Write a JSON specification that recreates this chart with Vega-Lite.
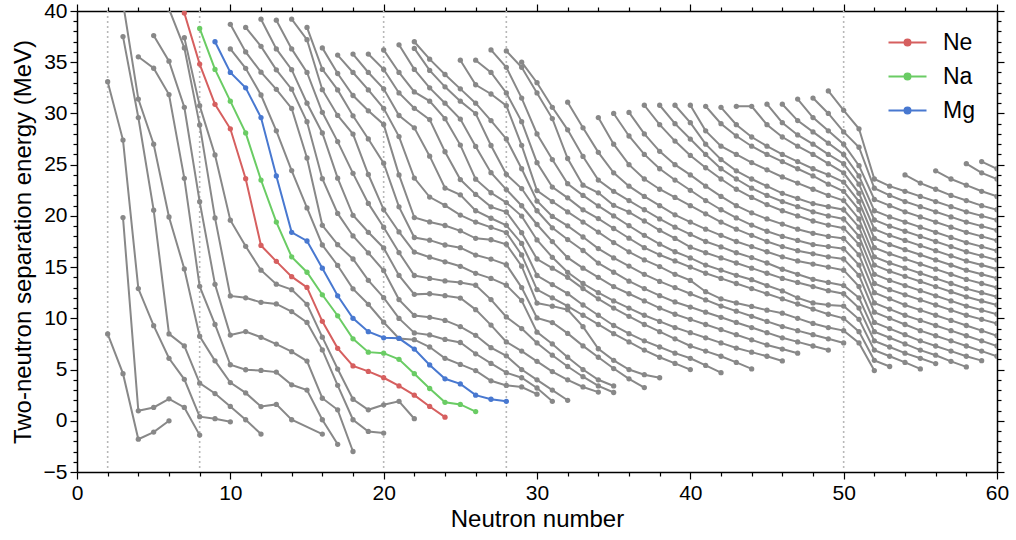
{
"$schema":"https://vega.github.io/schema/vega-lite/v6.json",
"width":920,"height":461,
"autosize":{"type":"none"},
"padding":{"left":77,"top":11,"right":19,"bottom":68},
"config":{"font":"Liberation Sans","view":{"stroke":null},
"axis":{"grid":false,"domainColor":"#000000","domainWidth":1.5,"tickColor":"#000000","tickWidth":1.2,"labelFontSize":21,"labelColor":"#000000","titleFontSize":24,"titleFontWeight":"normal","titleColor":"#000000","labelFont":"Liberation Sans","titleFont":"Liberation Sans"}},
"datasets":{
"magic":[{"m":2},{"m":8},{"m":20},{"m":28},{"m":50}],
"s2n":[
{"e":"H","n":2,"s":8.48},{"e":"H","n":3,"s":4.6},{"e":"H","n":4,"s":-1.8},{"e":"H","n":5,"s":-1.1},{"e":"H","n":6,"s":0.0},
{"e":"He","n":3,"s":19.84},{"e":"He","n":4,"s":0.97},{"e":"He","n":5,"s":1.3},{"e":"He","n":6,"s":2.14},{"e":"He","n":7,"s":1.3},{"e":"He","n":8,"s":-1.4},
{"e":"Li","n":2,"s":33.1},{"e":"Li","n":3,"s":27.4},{"e":"Li","n":4,"s":12.9},{"e":"Li","n":5,"s":9.28},{"e":"Li","n":6,"s":6.1},{"e":"Li","n":7,"s":4.05},{"e":"Li","n":8,"s":0.4},{"e":"Li","n":9,"s":0.2},{"e":"Li","n":10,"s":-0.1},
{"e":"Be","n":3,"s":37.5},{"e":"Be","n":4,"s":29.6},{"e":"Be","n":5,"s":20.56},{"e":"Be","n":6,"s":8.48},{"e":"Be","n":7,"s":7.31},{"e":"Be","n":8,"s":3.67},{"e":"Be","n":9,"s":2.66},{"e":"Be","n":10,"s":1.4},{"e":"Be","n":11,"s":0.1},{"e":"Be","n":12,"s":-1.3},
{"e":"B","n":3,"s":40.8},{"e":"B","n":4,"s":31.4},{"e":"B","n":5,"s":27.0},{"e":"B","n":6,"s":19.89},{"e":"B","n":7,"s":14.82},{"e":"B","n":8,"s":8.25},{"e":"B","n":9,"s":5.85},{"e":"B","n":10,"s":3.73},{"e":"B","n":11,"s":2.72},{"e":"B","n":12,"s":1.39},{"e":"B","n":13,"s":1.6},{"e":"B","n":14,"s":0.1},{"e":"B","n":16,"s":-1.3},
{"e":"C","n":4,"s":35.53},{"e":"C","n":5,"s":34.41},{"e":"C","n":6,"s":31.84},{"e":"C","n":7,"s":23.67},{"e":"C","n":8,"s":13.12},{"e":"C","n":9,"s":9.4},{"e":"C","n":10,"s":5.47},{"e":"C","n":11,"s":4.98},{"e":"C","n":12,"s":4.91},{"e":"C","n":13,"s":4.75},{"e":"C","n":14,"s":3.51},{"e":"C","n":15,"s":3.0},{"e":"C","n":16,"s":0.1},{"e":"C","n":17,"s":-2.3},
{"e":"N","n":5,"s":37.6},{"e":"N","n":6,"s":35.1},{"e":"N","n":7,"s":30.6},{"e":"N","n":8,"s":21.38},{"e":"N","n":9,"s":13.32},{"e":"N","n":10,"s":8.37},{"e":"N","n":11,"s":8.71},{"e":"N","n":12,"s":8.15},{"e":"N","n":13,"s":7.49},{"e":"N","n":14,"s":6.75},{"e":"N","n":15,"s":5.83},{"e":"N","n":16,"s":2.2},{"e":"N","n":17,"s":1.07},{"e":"N","n":18,"s":-3.0},
{"e":"O","n":6,"s":40.2},{"e":"O","n":7,"s":36.4},{"e":"O","n":8,"s":28.88},{"e":"O","n":9,"s":19.8},{"e":"O","n":10,"s":12.19},{"e":"O","n":11,"s":12.0},{"e":"O","n":12,"s":11.56},{"e":"O","n":13,"s":11.41},{"e":"O","n":14,"s":10.66},{"e":"O","n":15,"s":9.6},{"e":"O","n":16,"s":6.92},{"e":"O","n":17,"s":3.46},{"e":"O","n":18,"s":0.1},{"e":"O","n":19,"s":-1.04},{"e":"O","n":20,"s":-1.2},
{"e":"F","n":7,"s":37.4},{"e":"F","n":8,"s":30.76},{"e":"F","n":9,"s":25.95},{"e":"F","n":10,"s":19.58},{"e":"F","n":11,"s":17.03},{"e":"F","n":12,"s":14.7},{"e":"F","n":13,"s":13.33},{"e":"F","n":14,"s":12.8},{"e":"F","n":15,"s":11.37},{"e":"F","n":16,"s":8.16},{"e":"F","n":17,"s":5.05},{"e":"F","n":18,"s":2.1},{"e":"F","n":19,"s":1.07},{"e":"F","n":20,"s":1.56},{"e":"F","n":21,"s":1.9},{"e":"F","n":22,"s":0.2},
{"e":"Ne","n":7,"s":39.8},{"e":"Ne","n":8,"s":34.82},{"e":"Ne","n":9,"s":30.89},{"e":"Ne","n":10,"s":28.5},{"e":"Ne","n":11,"s":23.63},{"e":"Ne","n":12,"s":17.12},{"e":"Ne","n":13,"s":15.56},{"e":"Ne","n":14,"s":14.07},{"e":"Ne","n":15,"s":13.02},{"e":"Ne","n":16,"s":9.71},{"e":"Ne","n":17,"s":7.07},{"e":"Ne","n":18,"s":5.35},{"e":"Ne","n":19,"s":4.82},{"e":"Ne","n":20,"s":4.2},{"e":"Ne","n":21,"s":3.4},{"e":"Ne","n":22,"s":2.5},{"e":"Ne","n":23,"s":1.4},{"e":"Ne","n":24,"s":0.35},
{"e":"Na","n":8,"s":38.3},{"e":"Na","n":9,"s":34.3},{"e":"Na","n":10,"s":31.2},{"e":"Na","n":11,"s":28.1},{"e":"Na","n":12,"s":23.5},{"e":"Na","n":13,"s":19.4},{"e":"Na","n":14,"s":16.0},{"e":"Na","n":15,"s":14.5},{"e":"Na","n":16,"s":12.3},{"e":"Na","n":17,"s":10.25},{"e":"Na","n":18,"s":8.0},{"e":"Na","n":19,"s":6.7},{"e":"Na","n":20,"s":6.6},{"e":"Na","n":21,"s":6.0},{"e":"Na","n":22,"s":4.6},{"e":"Na","n":23,"s":3.15},{"e":"Na","n":24,"s":1.8},{"e":"Na","n":25,"s":1.6},{"e":"Na","n":26,"s":0.9},
{"e":"Mg","n":9,"s":37.0},{"e":"Mg","n":10,"s":34.0},{"e":"Mg","n":11,"s":32.5},{"e":"Mg","n":12,"s":29.6},{"e":"Mg","n":13,"s":23.9},{"e":"Mg","n":14,"s":18.4},{"e":"Mg","n":15,"s":17.55},{"e":"Mg","n":16,"s":14.9},{"e":"Mg","n":17,"s":12.2},{"e":"Mg","n":18,"s":10.0},{"e":"Mg","n":19,"s":8.7},{"e":"Mg","n":20,"s":8.1},{"e":"Mg","n":21,"s":8.05},{"e":"Mg","n":22,"s":7.0},{"e":"Mg","n":23,"s":5.45},{"e":"Mg","n":24,"s":4.1},{"e":"Mg","n":25,"s":3.6},{"e":"Mg","n":26,"s":2.5},{"e":"Mg","n":27,"s":2.1},{"e":"Mg","n":28,"s":1.9},
{"e":"Al","n":10,"s":36.3},{"e":"Al","n":11,"s":34.4},{"e":"Al","n":12,"s":31.8},{"e":"Al","n":13,"s":28.3},{"e":"Al","n":14,"s":24.42},{"e":"Al","n":15,"s":20.78},{"e":"Al","n":16,"s":17.16},{"e":"Al","n":17,"s":15.16},{"e":"Al","n":18,"s":12.88},{"e":"Al","n":19,"s":11.37},{"e":"Al","n":20,"s":9.62},{"e":"Al","n":21,"s":8.04},{"e":"Al","n":22,"s":7.92},{"e":"Al","n":23,"s":7.2},{"e":"Al","n":24,"s":6.1},{"e":"Al","n":25,"s":5.5},{"e":"Al","n":26,"s":4.9},{"e":"Al","n":27,"s":3.9},{"e":"Al","n":28,"s":3.45},{"e":"Al","n":29,"s":3.3},{"e":"Al","n":30,"s":2.6},
{"e":"Si","n":10,"s":38.7},{"e":"Si","n":11,"s":36.0},{"e":"Si","n":12,"s":34.03},{"e":"Si","n":13,"s":32.35},{"e":"Si","n":14,"s":30.49},{"e":"Si","n":15,"s":25.65},{"e":"Si","n":16,"s":19.08},{"e":"Si","n":17,"s":17.19},{"e":"Si","n":18,"s":15.79},{"e":"Si","n":19,"s":13.71},{"e":"Si","n":20,"s":12.02},{"e":"Si","n":21,"s":9.99},{"e":"Si","n":22,"s":8.58},{"e":"Si","n":23,"s":8.38},{"e":"Si","n":24,"s":7.94},{"e":"Si","n":25,"s":7.64},{"e":"Si","n":26,"s":6.54},{"e":"Si","n":27,"s":5.6},{"e":"Si","n":28,"s":4.7},{"e":"Si","n":29,"s":4.2},{"e":"Si","n":30,"s":3.2},{"e":"Si","n":31,"s":1.9},
{"e":"P","n":11,"s":38.4},{"e":"P","n":12,"s":36.55},{"e":"P","n":13,"s":34.26},{"e":"P","n":14,"s":32.37},{"e":"P","n":15,"s":29.19},{"e":"P","n":16,"s":23.63},{"e":"P","n":17,"s":20.24},{"e":"P","n":18,"s":18.04},{"e":"P","n":19,"s":16.39},{"e":"P","n":20,"s":14.66},{"e":"P","n":21,"s":11.83},{"e":"P","n":22,"s":10.28},{"e":"P","n":23,"s":10.1},{"e":"P","n":24,"s":9.8},{"e":"P","n":25,"s":9.2},{"e":"P","n":26,"s":8.34},{"e":"P","n":27,"s":7.14},{"e":"P","n":28,"s":6.34},{"e":"P","n":29,"s":5.0},{"e":"P","n":30,"s":4.0},{"e":"P","n":31,"s":3.0},{"e":"P","n":32,"s":2.0},
{"e":"S","n":12,"s":39.2},{"e":"S","n":13,"s":36.3},{"e":"S","n":14,"s":34.27},{"e":"S","n":15,"s":31.0},{"e":"S","n":16,"s":28.09},{"e":"S","n":17,"s":23.68},{"e":"S","n":18,"s":20.06},{"e":"S","n":19,"s":18.4},{"e":"S","n":20,"s":16.87},{"e":"S","n":21,"s":14.19},{"e":"S","n":22,"s":12.34},{"e":"S","n":23,"s":12.4},{"e":"S","n":24,"s":12.21},{"e":"S","n":25,"s":11.98},{"e":"S","n":26,"s":10.85},{"e":"S","n":27,"s":9.34},{"e":"S","n":28,"s":7.7},{"e":"S","n":29,"s":6.8},{"e":"S","n":30,"s":5.8},{"e":"S","n":31,"s":4.8},{"e":"S","n":32,"s":4.0},{"e":"S","n":33,"s":3.3},{"e":"S","n":34,"s":2.8},
{"e":"Cl","n":13,"s":39.1},{"e":"Cl","n":14,"s":36.3},{"e":"Cl","n":15,"s":34.0},{"e":"Cl","n":16,"s":30.11},{"e":"Cl","n":17,"s":27.25},{"e":"Cl","n":18,"s":24.15},{"e":"Cl","n":19,"s":21.22},{"e":"Cl","n":20,"s":18.89},{"e":"Cl","n":21,"s":16.42},{"e":"Cl","n":22,"s":14.18},{"e":"Cl","n":23,"s":13.9},{"e":"Cl","n":24,"s":13.65},{"e":"Cl","n":25,"s":13.49},{"e":"Cl","n":26,"s":13.23},{"e":"Cl","n":27,"s":11.83},{"e":"Cl","n":28,"s":10.14},{"e":"Cl","n":29,"s":9.0},{"e":"Cl","n":30,"s":7.6},{"e":"Cl","n":31,"s":6.4},{"e":"Cl","n":32,"s":5.3},{"e":"Cl","n":33,"s":4.3},{"e":"Cl","n":34,"s":3.4},{"e":"Cl","n":35,"s":2.76},
{"e":"Ar","n":14,"s":39.2},{"e":"Ar","n":15,"s":37.2},{"e":"Ar","n":16,"s":32.32},{"e":"Ar","n":17,"s":29.81},{"e":"Ar","n":18,"s":27.99},{"e":"Ar","n":19,"s":24.04},{"e":"Ar","n":20,"s":20.62},{"e":"Ar","n":21,"s":18.43},{"e":"Ar","n":22,"s":16.47},{"e":"Ar","n":23,"s":15.97},{"e":"Ar","n":24,"s":15.52},{"e":"Ar","n":25,"s":15.08},{"e":"Ar","n":26,"s":14.39},{"e":"Ar","n":27,"s":13.9},{"e":"Ar","n":28,"s":13.24},{"e":"Ar","n":29,"s":11.74},{"e":"Ar","n":30,"s":8.65},{"e":"Ar","n":31,"s":7.5},{"e":"Ar","n":32,"s":6.2},{"e":"Ar","n":33,"s":5.0},{"e":"Ar","n":34,"s":4.0},{"e":"Ar","n":35,"s":3.4},
{"e":"K","n":15,"s":38.4},{"e":"K","n":16,"s":34.3},{"e":"K","n":17,"s":32.3},{"e":"K","n":18,"s":29.77},{"e":"K","n":19,"s":27.51},{"e":"K","n":20,"s":25.15},{"e":"K","n":21,"s":20.88},{"e":"K","n":22,"s":17.89},{"e":"K","n":23,"s":17.63},{"e":"K","n":24,"s":17.16},{"e":"K","n":25,"s":16.9},{"e":"K","n":26,"s":16.18},{"e":"K","n":27,"s":15.78},{"e":"K","n":28,"s":15.24},{"e":"K","n":29,"s":13.0},{"e":"K","n":30,"s":10.04},{"e":"K","n":31,"s":9.59},{"e":"K","n":32,"s":8.53},{"e":"K","n":33,"s":7.31},{"e":"K","n":34,"s":6.2},{"e":"K","n":35,"s":5.1},{"e":"K","n":36,"s":4.1},{"e":"K","n":37,"s":3.24},
{"e":"Ca","n":16,"s":36.4},{"e":"Ca","n":17,"s":33.9},{"e":"Ca","n":18,"s":31.75},{"e":"Ca","n":19,"s":30.26},{"e":"Ca","n":20,"s":28.93},{"e":"Ca","n":21,"s":24.0},{"e":"Ca","n":22,"s":19.84},{"e":"Ca","n":23,"s":19.41},{"e":"Ca","n":24,"s":19.06},{"e":"Ca","n":25,"s":18.54},{"e":"Ca","n":26,"s":17.81},{"e":"Ca","n":27,"s":17.67},{"e":"Ca","n":28,"s":17.23},{"e":"Ca","n":29,"s":15.09},{"e":"Ca","n":30,"s":11.49},{"e":"Ca","n":31,"s":11.19},{"e":"Ca","n":32,"s":10.84},{"e":"Ca","n":33,"s":9.19},{"e":"Ca","n":34,"s":7.03},{"e":"Ca","n":35,"s":5.9},{"e":"Ca","n":36,"s":5.0},{"e":"Ca","n":37,"s":4.5},{"e":"Ca","n":38,"s":4.2},
{"e":"Sc","n":17,"s":35.7},{"e":"Sc","n":18,"s":34.0},{"e":"Sc","n":19,"s":32.3},{"e":"Sc","n":20,"s":30.5},{"e":"Sc","n":21,"s":27.74},{"e":"Sc","n":22,"s":23.69},{"e":"Sc","n":23,"s":21.84},{"e":"Sc","n":24,"s":21.02},{"e":"Sc","n":25,"s":20.08},{"e":"Sc","n":26,"s":19.4},{"e":"Sc","n":27,"s":18.88},{"e":"Sc","n":28,"s":18.37},{"e":"Sc","n":29,"s":16.19},{"e":"Sc","n":30,"s":12.81},{"e":"Sc","n":31,"s":12.0},{"e":"Sc","n":32,"s":11.2},{"e":"Sc","n":33,"s":10.3},{"e":"Sc","n":34,"s":9.4},{"e":"Sc","n":35,"s":8.5},{"e":"Sc","n":36,"s":7.7},{"e":"Sc","n":37,"s":6.9},{"e":"Sc","n":38,"s":6.2},{"e":"Sc","n":39,"s":5.6},{"e":"Sc","n":40,"s":5.0},
{"e":"Ti","n":18,"s":35.8},{"e":"Ti","n":19,"s":34.0},{"e":"Ti","n":20,"s":32.4},{"e":"Ti","n":21,"s":29.8},{"e":"Ti","n":22,"s":28.6},{"e":"Ti","n":23,"s":25.83},{"e":"Ti","n":24,"s":22.72},{"e":"Ti","n":25,"s":22.06},{"e":"Ti","n":26,"s":20.5},{"e":"Ti","n":27,"s":19.77},{"e":"Ti","n":28,"s":19.08},{"e":"Ti","n":29,"s":17.31},{"e":"Ti","n":30,"s":14.18},{"e":"Ti","n":31,"s":13.3},{"e":"Ti","n":32,"s":12.41},{"e":"Ti","n":33,"s":11.3},{"e":"Ti","n":34,"s":10.3},{"e":"Ti","n":35,"s":9.3},{"e":"Ti","n":36,"s":8.5},{"e":"Ti","n":37,"s":7.8},{"e":"Ti","n":38,"s":7.2},{"e":"Ti","n":39,"s":6.6},{"e":"Ti","n":40,"s":6.1},{"e":"Ti","n":41,"s":5.4},{"e":"Ti","n":42,"s":4.7},
{"e":"V","n":19,"s":35.8},{"e":"V","n":20,"s":34.3},{"e":"V","n":21,"s":32.0},{"e":"V","n":22,"s":30.5},{"e":"V","n":23,"s":29.4},{"e":"V","n":24,"s":26.26},{"e":"V","n":25,"s":23.55},{"e":"V","n":26,"s":22.1},{"e":"V","n":27,"s":20.88},{"e":"V","n":28,"s":20.38},{"e":"V","n":29,"s":18.36},{"e":"V","n":30,"s":15.79},{"e":"V","n":31,"s":14.9},{"e":"V","n":32,"s":14.0},{"e":"V","n":33,"s":12.9},{"e":"V","n":34,"s":11.9},{"e":"V","n":35,"s":11.0},{"e":"V","n":36,"s":10.2},{"e":"V","n":37,"s":9.4},{"e":"V","n":38,"s":8.7},{"e":"V","n":39,"s":8.0},{"e":"V","n":40,"s":7.3},{"e":"V","n":41,"s":6.8},{"e":"V","n":42,"s":6.3},{"e":"V","n":43,"s":5.7},{"e":"V","n":44,"s":5.06},
{"e":"Cr","n":20,"s":36.2},{"e":"Cr","n":21,"s":34.0},{"e":"Cr","n":22,"s":32.1},{"e":"Cr","n":23,"s":31.2},{"e":"Cr","n":24,"s":29.49},{"e":"Cr","n":25,"s":26.91},{"e":"Cr","n":26,"s":23.58},{"e":"Cr","n":27,"s":22.26},{"e":"Cr","n":28,"s":21.3},{"e":"Cr","n":29,"s":19.98},{"e":"Cr","n":30,"s":17.65},{"e":"Cr","n":31,"s":15.96},{"e":"Cr","n":32,"s":14.49},{"e":"Cr","n":33,"s":13.4},{"e":"Cr","n":34,"s":12.5},{"e":"Cr","n":35,"s":11.7},{"e":"Cr","n":36,"s":11.0},{"e":"Cr","n":37,"s":10.3},{"e":"Cr","n":38,"s":9.7},{"e":"Cr","n":39,"s":9.1},{"e":"Cr","n":40,"s":8.6},{"e":"Cr","n":41,"s":8.1},{"e":"Cr","n":42,"s":7.6},{"e":"Cr","n":43,"s":7.1},{"e":"Cr","n":44,"s":6.7},{"e":"Cr","n":45,"s":6.3},{"e":"Cr","n":46,"s":5.84},
{"e":"Mn","n":21,"s":36.7},{"e":"Mn","n":22,"s":34.3},{"e":"Mn","n":23,"s":32.5},{"e":"Mn","n":24,"s":31.0},{"e":"Mn","n":25,"s":29.45},{"e":"Mn","n":26,"s":26.78},{"e":"Mn","n":27,"s":24.22},{"e":"Mn","n":28,"s":22.57},{"e":"Mn","n":29,"s":20.99},{"e":"Mn","n":30,"s":19.16},{"e":"Mn","n":31,"s":17.49},{"e":"Mn","n":32,"s":15.92},{"e":"Mn","n":33,"s":14.9},{"e":"Mn","n":34,"s":14.0},{"e":"Mn","n":35,"s":13.1},{"e":"Mn","n":36,"s":12.4},{"e":"Mn","n":37,"s":11.7},{"e":"Mn","n":38,"s":11.0},{"e":"Mn","n":39,"s":10.4},{"e":"Mn","n":40,"s":9.9},{"e":"Mn","n":41,"s":9.4},{"e":"Mn","n":42,"s":8.9},{"e":"Mn","n":43,"s":8.4},{"e":"Mn","n":44,"s":7.9},{"e":"Mn","n":45,"s":7.4},{"e":"Mn","n":46,"s":7.0},{"e":"Mn","n":47,"s":6.6},
{"e":"Fe","n":22,"s":36.35},{"e":"Fe","n":23,"s":34.2},{"e":"Fe","n":24,"s":32.6},{"e":"Fe","n":25,"s":31.2},{"e":"Fe","n":26,"s":29.99},{"e":"Fe","n":27,"s":26.87},{"e":"Fe","n":28,"s":24.06},{"e":"Fe","n":29,"s":22.67},{"e":"Fe","n":30,"s":20.5},{"e":"Fe","n":31,"s":18.84},{"e":"Fe","n":32,"s":17.69},{"e":"Fe","n":33,"s":16.62},{"e":"Fe","n":34,"s":15.39},{"e":"Fe","n":35,"s":14.5},{"e":"Fe","n":36,"s":13.63},{"e":"Fe","n":37,"s":12.9},{"e":"Fe","n":38,"s":12.21},{"e":"Fe","n":39,"s":11.6},{"e":"Fe","n":40,"s":11.1},{"e":"Fe","n":41,"s":10.6},{"e":"Fe","n":42,"s":10.1},{"e":"Fe","n":43,"s":9.6},{"e":"Fe","n":44,"s":9.1},{"e":"Fe","n":45,"s":8.6},{"e":"Fe","n":46,"s":8.1},{"e":"Fe","n":47,"s":7.7},{"e":"Fe","n":48,"s":7.3},{"e":"Fe","n":49,"s":6.9},
{"e":"Co","n":22,"s":37.0},{"e":"Co","n":23,"s":35.3},{"e":"Co","n":24,"s":33.8},{"e":"Co","n":25,"s":32.4},{"e":"Co","n":26,"s":31.0},{"e":"Co","n":27,"s":29.3},{"e":"Co","n":28,"s":27.51},{"e":"Co","n":29,"s":24.6},{"e":"Co","n":30,"s":21.45},{"e":"Co","n":31,"s":19.95},{"e":"Co","n":32,"s":19.03},{"e":"Co","n":33,"s":17.94},{"e":"Co","n":34,"s":16.81},{"e":"Co","n":35,"s":15.9},{"e":"Co","n":36,"s":15.1},{"e":"Co","n":37,"s":14.3},{"e":"Co","n":38,"s":13.6},{"e":"Co","n":39,"s":13.0},{"e":"Co","n":40,"s":12.4},{"e":"Co","n":41,"s":11.8},{"e":"Co","n":42,"s":11.2},{"e":"Co","n":43,"s":10.7},{"e":"Co","n":44,"s":10.2},{"e":"Co","n":45,"s":9.7},{"e":"Co","n":46,"s":9.2},{"e":"Co","n":47,"s":8.8},{"e":"Co","n":48,"s":8.4},{"e":"Co","n":49,"s":8.0},{"e":"Co","n":50,"s":7.6},
{"e":"Ni","n":25,"s":35.2},{"e":"Ni","n":26,"s":32.8},{"e":"Ni","n":27,"s":31.9},{"e":"Ni","n":28,"s":30.76},{"e":"Ni","n":29,"s":26.89},{"e":"Ni","n":30,"s":22.47},{"e":"Ni","n":31,"s":21.4},{"e":"Ni","n":32,"s":20.39},{"e":"Ni","n":33,"s":19.4},{"e":"Ni","n":34,"s":18.42},{"e":"Ni","n":35,"s":17.4},{"e":"Ni","n":36,"s":16.49},{"e":"Ni","n":37,"s":15.7},{"e":"Ni","n":38,"s":15.05},{"e":"Ni","n":39,"s":14.3},{"e":"Ni","n":40,"s":13.7},{"e":"Ni","n":41,"s":12.6},{"e":"Ni","n":42,"s":11.9},{"e":"Ni","n":43,"s":11.5},{"e":"Ni","n":44,"s":11.16},{"e":"Ni","n":45,"s":10.8},{"e":"Ni","n":46,"s":10.5},{"e":"Ni","n":47,"s":10.0},{"e":"Ni","n":48,"s":9.5},{"e":"Ni","n":49,"s":9.1},{"e":"Ni","n":50,"s":8.8},{"e":"Ni","n":51,"s":7.6},{"e":"Ni","n":52,"s":4.9},
{"e":"Cu","n":26,"s":35.2},{"e":"Cu","n":27,"s":34.0},{"e":"Cu","n":28,"s":32.0},{"e":"Cu","n":29,"s":29.2},{"e":"Cu","n":30,"s":25.19},{"e":"Cu","n":31,"s":22.81},{"e":"Cu","n":32,"s":21.76},{"e":"Cu","n":33,"s":20.59},{"e":"Cu","n":34,"s":19.74},{"e":"Cu","n":35,"s":18.77},{"e":"Cu","n":36,"s":17.82},{"e":"Cu","n":37,"s":16.9},{"e":"Cu","n":38,"s":16.2},{"e":"Cu","n":39,"s":15.6},{"e":"Cu","n":40,"s":15.0},{"e":"Cu","n":41,"s":14.4},{"e":"Cu","n":42,"s":13.9},{"e":"Cu","n":43,"s":13.4},{"e":"Cu","n":44,"s":12.9},{"e":"Cu","n":45,"s":12.4},{"e":"Cu","n":46,"s":11.9},{"e":"Cu","n":47,"s":11.4},{"e":"Cu","n":48,"s":10.9},{"e":"Cu","n":49,"s":10.4},{"e":"Cu","n":50,"s":10.0},{"e":"Cu","n":51,"s":8.7},{"e":"Cu","n":52,"s":5.9},{"e":"Cu","n":53,"s":5.3},
{"e":"Zn","n":27,"s":36.2},{"e":"Zn","n":28,"s":34.5},{"e":"Zn","n":29,"s":31.5},{"e":"Zn","n":30,"s":28.0},{"e":"Zn","n":31,"s":25.5},{"e":"Zn","n":32,"s":23.14},{"e":"Zn","n":33,"s":22.0},{"e":"Zn","n":34,"s":20.97},{"e":"Zn","n":35,"s":20.0},{"e":"Zn","n":36,"s":19.04},{"e":"Zn","n":37,"s":18.1},{"e":"Zn","n":38,"s":17.24},{"e":"Zn","n":39,"s":16.5},{"e":"Zn","n":40,"s":15.9},{"e":"Zn","n":41,"s":15.2},{"e":"Zn","n":42,"s":14.71},{"e":"Zn","n":43,"s":14.2},{"e":"Zn","n":44,"s":13.77},{"e":"Zn","n":45,"s":13.2},{"e":"Zn","n":46,"s":12.68},{"e":"Zn","n":47,"s":12.0},{"e":"Zn","n":48,"s":11.5},{"e":"Zn","n":49,"s":11.3},{"e":"Zn","n":50,"s":11.2},{"e":"Zn","n":51,"s":9.9},{"e":"Zn","n":52,"s":6.9},{"e":"Zn","n":53,"s":6.3},{"e":"Zn","n":54,"s":5.7},{"e":"Zn","n":55,"s":5.06},
{"e":"Ga","n":28,"s":36.1},{"e":"Ga","n":29,"s":34.5},{"e":"Ga","n":30,"s":32.0},{"e":"Ga","n":31,"s":29.5},{"e":"Ga","n":32,"s":25.6},{"e":"Ga","n":33,"s":23.0},{"e":"Ga","n":34,"s":22.25},{"e":"Ga","n":35,"s":21.03},{"e":"Ga","n":36,"s":20.36},{"e":"Ga","n":37,"s":19.5},{"e":"Ga","n":38,"s":18.59},{"e":"Ga","n":39,"s":17.8},{"e":"Ga","n":40,"s":16.95},{"e":"Ga","n":41,"s":16.4},{"e":"Ga","n":42,"s":15.9},{"e":"Ga","n":43,"s":15.4},{"e":"Ga","n":44,"s":14.9},{"e":"Ga","n":45,"s":14.4},{"e":"Ga","n":46,"s":13.9},{"e":"Ga","n":47,"s":13.5},{"e":"Ga","n":48,"s":13.1},{"e":"Ga","n":49,"s":12.7},{"e":"Ga","n":50,"s":12.4},{"e":"Ga","n":51,"s":11.0},{"e":"Ga","n":52,"s":7.8},{"e":"Ga","n":53,"s":7.2},{"e":"Ga","n":54,"s":6.6},{"e":"Ga","n":55,"s":6.1},{"e":"Ga","n":56,"s":5.58},
{"e":"Ge","n":29,"s":35.0},{"e":"Ge","n":30,"s":33.0},{"e":"Ge","n":31,"s":30.6},{"e":"Ge","n":32,"s":28.4},{"e":"Ge","n":33,"s":25.8},{"e":"Ge","n":34,"s":23.5},{"e":"Ge","n":35,"s":22.4},{"e":"Ge","n":36,"s":21.5},{"e":"Ge","n":37,"s":20.6},{"e":"Ge","n":38,"s":19.7},{"e":"Ge","n":39,"s":18.9},{"e":"Ge","n":40,"s":18.2},{"e":"Ge","n":41,"s":17.5},{"e":"Ge","n":42,"s":16.97},{"e":"Ge","n":43,"s":16.4},{"e":"Ge","n":44,"s":15.93},{"e":"Ge","n":45,"s":15.4},{"e":"Ge","n":46,"s":14.79},{"e":"Ge","n":47,"s":14.3},{"e":"Ge","n":48,"s":13.81},{"e":"Ge","n":49,"s":13.5},{"e":"Ge","n":50,"s":13.2},{"e":"Ge","n":51,"s":12.0},{"e":"Ge","n":52,"s":8.7},{"e":"Ge","n":53,"s":8.1},{"e":"Ge","n":54,"s":7.5},{"e":"Ge","n":55,"s":6.9},{"e":"Ge","n":56,"s":6.4},{"e":"Ge","n":57,"s":5.8},{"e":"Ge","n":58,"s":5.26},
{"e":"As","n":32,"s":31.1},{"e":"As","n":33,"s":28.6},{"e":"As","n":34,"s":26.2},{"e":"As","n":35,"s":24.2},{"e":"As","n":36,"s":22.9},{"e":"As","n":37,"s":21.9},{"e":"As","n":38,"s":21.0},{"e":"As","n":39,"s":20.1},{"e":"As","n":40,"s":19.4},{"e":"As","n":41,"s":18.7},{"e":"As","n":42,"s":18.1},{"e":"As","n":43,"s":17.5},{"e":"As","n":44,"s":17.0},{"e":"As","n":45,"s":16.5},{"e":"As","n":46,"s":16.0},{"e":"As","n":47,"s":15.6},{"e":"As","n":48,"s":15.3},{"e":"As","n":49,"s":15.0},{"e":"As","n":50,"s":14.7},{"e":"As","n":51,"s":13.1},{"e":"As","n":52,"s":9.6},{"e":"As","n":53,"s":9.0},{"e":"As","n":54,"s":8.4},{"e":"As","n":55,"s":7.8},{"e":"As","n":56,"s":7.3},{"e":"As","n":57,"s":6.8},{"e":"As","n":58,"s":6.3},{"e":"As","n":59,"s":5.87},
{"e":"Se","n":34,"s":29.6},{"e":"Se","n":35,"s":27.0},{"e":"Se","n":36,"s":25.0},{"e":"Se","n":37,"s":23.6},{"e":"Se","n":38,"s":22.6},{"e":"Se","n":39,"s":21.8},{"e":"Se","n":40,"s":21.0},{"e":"Se","n":41,"s":20.2},{"e":"Se","n":42,"s":19.4},{"e":"Se","n":43,"s":18.7},{"e":"Se","n":44,"s":18.1},{"e":"Se","n":45,"s":17.5},{"e":"Se","n":46,"s":17.0},{"e":"Se","n":47,"s":16.6},{"e":"Se","n":48,"s":16.3},{"e":"Se","n":49,"s":16.0},{"e":"Se","n":50,"s":15.8},{"e":"Se","n":51,"s":14.2},{"e":"Se","n":52,"s":10.6},{"e":"Se","n":53,"s":10.0},{"e":"Se","n":54,"s":9.4},{"e":"Se","n":55,"s":8.8},{"e":"Se","n":56,"s":8.3},{"e":"Se","n":57,"s":7.8},{"e":"Se","n":58,"s":7.3},{"e":"Se","n":59,"s":6.8},{"e":"Se","n":60,"s":6.3},
{"e":"Br","n":35,"s":30.0},{"e":"Br","n":36,"s":27.8},{"e":"Br","n":37,"s":26.0},{"e":"Br","n":38,"s":24.6},{"e":"Br","n":39,"s":23.5},{"e":"Br","n":40,"s":22.5},{"e":"Br","n":41,"s":21.5},{"e":"Br","n":42,"s":20.6},{"e":"Br","n":43,"s":19.8},{"e":"Br","n":44,"s":19.1},{"e":"Br","n":45,"s":18.5},{"e":"Br","n":46,"s":18.0},{"e":"Br","n":47,"s":17.6},{"e":"Br","n":48,"s":17.2},{"e":"Br","n":49,"s":17.0},{"e":"Br","n":50,"s":16.8},{"e":"Br","n":51,"s":15.2},{"e":"Br","n":52,"s":11.5},{"e":"Br","n":53,"s":10.9},{"e":"Br","n":54,"s":10.3},{"e":"Br","n":55,"s":9.8},{"e":"Br","n":56,"s":9.3},{"e":"Br","n":57,"s":8.8},{"e":"Br","n":58,"s":8.3},{"e":"Br","n":59,"s":7.8},{"e":"Br","n":60,"s":7.3},
{"e":"Kr","n":36,"s":30.1},{"e":"Kr","n":37,"s":28.0},{"e":"Kr","n":38,"s":26.3},{"e":"Kr","n":39,"s":25.0},{"e":"Kr","n":40,"s":24.0},{"e":"Kr","n":41,"s":22.9},{"e":"Kr","n":42,"s":21.9},{"e":"Kr","n":43,"s":21.0},{"e":"Kr","n":44,"s":20.3},{"e":"Kr","n":45,"s":19.7},{"e":"Kr","n":46,"s":19.2},{"e":"Kr","n":47,"s":18.7},{"e":"Kr","n":48,"s":18.3},{"e":"Kr","n":49,"s":18.0},{"e":"Kr","n":50,"s":17.8},{"e":"Kr","n":51,"s":16.2},{"e":"Kr","n":52,"s":12.5},{"e":"Kr","n":53,"s":11.9},{"e":"Kr","n":54,"s":11.3},{"e":"Kr","n":55,"s":10.8},{"e":"Kr","n":56,"s":10.3},{"e":"Kr","n":57,"s":9.8},{"e":"Kr","n":58,"s":9.3},{"e":"Kr","n":59,"s":8.8},{"e":"Kr","n":60,"s":8.3},
{"e":"Rb","n":37,"s":30.8},{"e":"Rb","n":38,"s":28.9},{"e":"Rb","n":39,"s":27.3},{"e":"Rb","n":40,"s":25.9},{"e":"Rb","n":41,"s":24.7},{"e":"Rb","n":42,"s":23.6},{"e":"Rb","n":43,"s":22.6},{"e":"Rb","n":44,"s":21.8},{"e":"Rb","n":45,"s":21.1},{"e":"Rb","n":46,"s":20.5},{"e":"Rb","n":47,"s":20.0},{"e":"Rb","n":48,"s":19.5},{"e":"Rb","n":49,"s":19.1},{"e":"Rb","n":50,"s":18.8},{"e":"Rb","n":51,"s":17.2},{"e":"Rb","n":52,"s":13.4},{"e":"Rb","n":53,"s":12.8},{"e":"Rb","n":54,"s":12.3},{"e":"Rb","n":55,"s":11.8},{"e":"Rb","n":56,"s":11.3},{"e":"Rb","n":57,"s":10.8},{"e":"Rb","n":58,"s":10.3},{"e":"Rb","n":59,"s":9.9},{"e":"Rb","n":60,"s":9.5},
{"e":"Sr","n":38,"s":30.8},{"e":"Sr","n":39,"s":29.0},{"e":"Sr","n":40,"s":27.5},{"e":"Sr","n":41,"s":26.0},{"e":"Sr","n":42,"s":24.6},{"e":"Sr","n":43,"s":23.6},{"e":"Sr","n":44,"s":22.7},{"e":"Sr","n":45,"s":22.0},{"e":"Sr","n":46,"s":21.4},{"e":"Sr","n":47,"s":20.9},{"e":"Sr","n":48,"s":20.4},{"e":"Sr","n":49,"s":20.0},{"e":"Sr","n":50,"s":19.7},{"e":"Sr","n":51,"s":18.0},{"e":"Sr","n":52,"s":14.3},{"e":"Sr","n":53,"s":13.7},{"e":"Sr","n":54,"s":13.2},{"e":"Sr","n":55,"s":12.7},{"e":"Sr","n":56,"s":12.2},{"e":"Sr","n":57,"s":11.7},{"e":"Sr","n":58,"s":11.2},{"e":"Sr","n":59,"s":10.8},{"e":"Sr","n":60,"s":10.4},
{"e":"Y","n":39,"s":30.8},{"e":"Y","n":40,"s":29.1},{"e":"Y","n":41,"s":27.0},{"e":"Y","n":42,"s":25.5},{"e":"Y","n":43,"s":24.4},{"e":"Y","n":44,"s":23.6},{"e":"Y","n":45,"s":22.9},{"e":"Y","n":46,"s":22.2},{"e":"Y","n":47,"s":21.7},{"e":"Y","n":48,"s":21.2},{"e":"Y","n":49,"s":20.9},{"e":"Y","n":50,"s":20.6},{"e":"Y","n":51,"s":18.9},{"e":"Y","n":52,"s":15.2},{"e":"Y","n":53,"s":14.6},{"e":"Y","n":54,"s":14.1},{"e":"Y","n":55,"s":13.6},{"e":"Y","n":56,"s":13.1},{"e":"Y","n":57,"s":12.6},{"e":"Y","n":58,"s":12.1},{"e":"Y","n":59,"s":11.7},{"e":"Y","n":60,"s":11.3},
{"e":"Zr","n":40,"s":30.8},{"e":"Zr","n":41,"s":28.3},{"e":"Zr","n":42,"s":26.8},{"e":"Zr","n":43,"s":26.0},{"e":"Zr","n":44,"s":25.2},{"e":"Zr","n":45,"s":24.5},{"e":"Zr","n":46,"s":23.8},{"e":"Zr","n":47,"s":23.2},{"e":"Zr","n":48,"s":22.6},{"e":"Zr","n":49,"s":22.0},{"e":"Zr","n":50,"s":21.5},{"e":"Zr","n":51,"s":19.7},{"e":"Zr","n":52,"s":16.0},{"e":"Zr","n":53,"s":15.4},{"e":"Zr","n":54,"s":14.9},{"e":"Zr","n":55,"s":14.4},{"e":"Zr","n":56,"s":13.9},{"e":"Zr","n":57,"s":13.4},{"e":"Zr","n":58,"s":12.9},{"e":"Zr","n":59,"s":12.5},{"e":"Zr","n":60,"s":12.1},
{"e":"Nb","n":41,"s":30.7},{"e":"Nb","n":42,"s":29.0},{"e":"Nb","n":43,"s":27.8},{"e":"Nb","n":44,"s":26.8},{"e":"Nb","n":45,"s":26.0},{"e":"Nb","n":46,"s":25.3},{"e":"Nb","n":47,"s":24.6},{"e":"Nb","n":48,"s":23.9},{"e":"Nb","n":49,"s":23.1},{"e":"Nb","n":50,"s":22.4},{"e":"Nb","n":51,"s":20.6},{"e":"Nb","n":52,"s":16.9},{"e":"Nb","n":53,"s":16.3},{"e":"Nb","n":54,"s":15.8},{"e":"Nb","n":55,"s":15.3},{"e":"Nb","n":56,"s":14.8},{"e":"Nb","n":57,"s":14.3},{"e":"Nb","n":58,"s":13.8},{"e":"Nb","n":59,"s":13.4},{"e":"Nb","n":60,"s":13.0},
{"e":"Mo","n":42,"s":30.6},{"e":"Mo","n":43,"s":28.9},{"e":"Mo","n":44,"s":27.7},{"e":"Mo","n":45,"s":26.8},{"e":"Mo","n":46,"s":26.0},{"e":"Mo","n":47,"s":25.3},{"e":"Mo","n":48,"s":24.6},{"e":"Mo","n":49,"s":24.0},{"e":"Mo","n":50,"s":23.3},{"e":"Mo","n":51,"s":21.4},{"e":"Mo","n":52,"s":17.8},{"e":"Mo","n":53,"s":17.2},{"e":"Mo","n":54,"s":16.7},{"e":"Mo","n":55,"s":16.2},{"e":"Mo","n":56,"s":15.7},{"e":"Mo","n":57,"s":15.2},{"e":"Mo","n":58,"s":14.7},{"e":"Mo","n":59,"s":14.3},{"e":"Mo","n":60,"s":13.9},
{"e":"Tc","n":43,"s":30.7},{"e":"Tc","n":44,"s":30.7},{"e":"Tc","n":45,"s":28.9},{"e":"Tc","n":46,"s":27.7},{"e":"Tc","n":47,"s":26.8},{"e":"Tc","n":48,"s":26.0},{"e":"Tc","n":49,"s":25.1},{"e":"Tc","n":50,"s":24.2},{"e":"Tc","n":51,"s":22.2},{"e":"Tc","n":52,"s":18.7},{"e":"Tc","n":53,"s":18.1},{"e":"Tc","n":54,"s":17.6},{"e":"Tc","n":55,"s":17.1},{"e":"Tc","n":56,"s":16.6},{"e":"Tc","n":57,"s":16.1},{"e":"Tc","n":58,"s":15.6},{"e":"Tc","n":59,"s":15.2},{"e":"Tc","n":60,"s":14.8},
{"e":"Ru","n":45,"s":30.9},{"e":"Ru","n":46,"s":29.1},{"e":"Ru","n":47,"s":27.9},{"e":"Ru","n":48,"s":27.0},{"e":"Ru","n":49,"s":26.0},{"e":"Ru","n":50,"s":25.1},{"e":"Ru","n":51,"s":23.1},{"e":"Ru","n":52,"s":19.6},{"e":"Ru","n":53,"s":19.0},{"e":"Ru","n":54,"s":18.5},{"e":"Ru","n":55,"s":18.0},{"e":"Ru","n":56,"s":17.5},{"e":"Ru","n":57,"s":17.0},{"e":"Ru","n":58,"s":16.5},{"e":"Ru","n":59,"s":16.1},{"e":"Ru","n":60,"s":15.7},
{"e":"Rh","n":46,"s":30.9},{"e":"Rh","n":47,"s":29.3},{"e":"Rh","n":48,"s":28.2},{"e":"Rh","n":49,"s":27.1},{"e":"Rh","n":50,"s":26.0},{"e":"Rh","n":51,"s":23.9},{"e":"Rh","n":52,"s":20.5},{"e":"Rh","n":53,"s":19.9},{"e":"Rh","n":54,"s":19.4},{"e":"Rh","n":55,"s":18.9},{"e":"Rh","n":56,"s":18.4},{"e":"Rh","n":57,"s":17.9},{"e":"Rh","n":58,"s":17.4},{"e":"Rh","n":59,"s":17.0},{"e":"Rh","n":60,"s":16.6},
{"e":"Pd","n":47,"s":31.4},{"e":"Pd","n":48,"s":29.6},{"e":"Pd","n":49,"s":28.3},{"e":"Pd","n":50,"s":27.0},{"e":"Pd","n":51,"s":24.9},{"e":"Pd","n":52,"s":21.6},{"e":"Pd","n":53,"s":21.0},{"e":"Pd","n":54,"s":20.4},{"e":"Pd","n":55,"s":19.9},{"e":"Pd","n":56,"s":19.4},{"e":"Pd","n":57,"s":18.9},{"e":"Pd","n":58,"s":18.4},{"e":"Pd","n":59,"s":18.0},{"e":"Pd","n":60,"s":17.6},
{"e":"Ag","n":48,"s":31.5},{"e":"Ag","n":49,"s":30.0},{"e":"Ag","n":50,"s":28.2},{"e":"Ag","n":51,"s":26.7},{"e":"Ag","n":52,"s":22.7},{"e":"Ag","n":53,"s":22.0},{"e":"Ag","n":54,"s":21.4},{"e":"Ag","n":55,"s":20.9},{"e":"Ag","n":56,"s":20.4},{"e":"Ag","n":57,"s":19.9},{"e":"Ag","n":58,"s":19.4},{"e":"Ag","n":59,"s":19.0},{"e":"Ag","n":60,"s":18.6},
{"e":"Cd","n":49,"s":32.2},{"e":"Cd","n":50,"s":30.3},{"e":"Cd","n":51,"s":28.5},{"e":"Cd","n":52,"s":23.6},{"e":"Cd","n":53,"s":22.9},{"e":"Cd","n":54,"s":22.4},{"e":"Cd","n":55,"s":21.9},{"e":"Cd","n":56,"s":21.4},{"e":"Cd","n":57,"s":20.9},{"e":"Cd","n":58,"s":20.4},{"e":"Cd","n":59,"s":20.0},{"e":"Cd","n":60,"s":19.6},
{"e":"In","n":54,"s":24.0},{"e":"In","n":55,"s":23.2},{"e":"In","n":56,"s":22.6},{"e":"In","n":57,"s":22.0},{"e":"In","n":58,"s":21.5},{"e":"In","n":59,"s":21.0},{"e":"In","n":60,"s":20.6},
{"e":"Sn","n":56,"s":24.4},{"e":"Sn","n":57,"s":23.6},{"e":"Sn","n":58,"s":23.0},{"e":"Sn","n":59,"s":22.4},{"e":"Sn","n":60,"s":21.9},
{"e":"Sb","n":58,"s":25.1},{"e":"Sb","n":59,"s":24.2},{"e":"Sb","n":60,"s":23.6},
{"e":"Te","n":59,"s":25.3},{"e":"Te","n":60,"s":24.6}
]},
"layer":[
{"data":{"name":"magic"},"mark":{"type":"rule","color":"#b8b8b8","strokeWidth":1.6,"strokeDash":[2,3]},
 "encoding":{"x":{"field":"m","type":"quantitative","scale":{"domain":[0,60],"nice":false,"zero":false},"axis":null}}},
{"data":{"name":"s2n"},"transform":[{"filter":{"not":{"field":"e","oneOf":["Ne","Na","Mg"]}}}],
 "mark":{"type":"line","color":"#888888","strokeWidth":2,"clip":true},
 "encoding":{
  "x":{"field":"n","type":"quantitative","scale":{"domain":[0,60],"nice":false,"zero":false},
   "axis":{"orient":"bottom","title":"Neutron number","values":[0,2,4,6,8,10,12,14,16,18,20,22,24,26,28,30,32,34,36,38,40,42,44,46,48,50,52,54,56,58,60],
    "labelExpr":"datum.value % 10 === 0 ? datum.label : ''","tickSize":{"condition":{"test":"datum.value % 10 === 0","value":7},"value":4},"labelPadding":3,"titlePadding":4,"labelFlush":false,"labelOverlap":false}},
  "y":{"field":"s","type":"quantitative","scale":{"domain":[-5,40],"nice":false,"zero":false},
   "axis":{"orient":"left","title":"Two-neutron separation energy (MeV)","values":[-5,-4,-3,-2,-1,0,1,2,3,4,5,6,7,8,9,10,11,12,13,14,15,16,17,18,19,20,21,22,23,24,25,26,27,28,29,30,31,32,33,34,35,36,37,38,39,40],
    "labelExpr":"datum.value % 5 === 0 ? datum.label : ''","tickSize":{"condition":{"test":"datum.value % 5 === 0","value":7},"value":4},"labelPadding":3,"titlePadding":8,"labelFlush":false,"labelOverlap":false}},
  "detail":{"field":"e","type":"nominal"}}},
{"data":{"name":"s2n"},"transform":[{"filter":{"not":{"field":"e","oneOf":["Ne","Na","Mg"]}}}],
 "mark":{"type":"point","filled":true,"color":"#888888","opacity":1,"size":28,"clip":true},
 "encoding":{"x":{"field":"n","type":"quantitative","axis":null},"y":{"field":"s","type":"quantitative","axis":null}}},
{"data":{"name":"s2n"},"transform":[{"filter":{"field":"e","oneOf":["Ne","Na","Mg"]}}],
 "mark":{"type":"line","strokeWidth":2,"clip":true},
 "encoding":{
  "x":{"field":"n","type":"quantitative",
   "axis":{"orient":"top","title":null,"labels":false,"values":[0,2,4,6,8,10,12,14,16,18,20,22,24,26,28,30,32,34,36,38,40,42,44,46,48,50,52,54,56,58,60],"tickSize":{"condition":{"test":"datum.value % 10 === 0","value":7},"value":4}}},
  "y":{"field":"s","type":"quantitative",
   "axis":{"orient":"right","title":null,"labels":false,"values":[-5,-4,-3,-2,-1,0,1,2,3,4,5,6,7,8,9,10,11,12,13,14,15,16,17,18,19,20,21,22,23,24,25,26,27,28,29,30,31,32,33,34,35,36,37,38,39,40],"tickSize":{"condition":{"test":"datum.value % 5 === 0","value":7},"value":4}}},
  "color":{"field":"e","type":"nominal","scale":{"domain":["Ne","Na","Mg"],"range":["#d65f5f","#6acc64","#4878d0"]},
   "legend":{"orient":"none","legendX":819,"legendY":20,"title":null,"padding":0,"symbolType":"M-1.9,0H1.9M0.3,0A0.3,0.3,0,1,1,-0.3,0A0.3,0.3,0,1,1,0.3,0","symbolSize":400,"symbolStrokeWidth":2,"labelFontSize":23,"labelColor":"#000000","labelOffset":24,"rowPadding":10,"labelFont":"Liberation Sans",
    "encode":{"symbols":{"update":{"fill":{"scale":"color","field":"value"},"stroke":{"scale":"color","field":"value"}}}}}}}},
{"data":{"name":"s2n"},"transform":[{"filter":{"field":"e","oneOf":["Ne","Na","Mg"]}}],
 "mark":{"type":"point","filled":true,"opacity":1,"size":28,"clip":true},
 "encoding":{"x":{"field":"n","type":"quantitative","axis":null},"y":{"field":"s","type":"quantitative","axis":null},
  "color":{"field":"e","type":"nominal","legend":null}}}
],
"resolve":{"axis":{"x":"independent","y":"independent"}}
}
